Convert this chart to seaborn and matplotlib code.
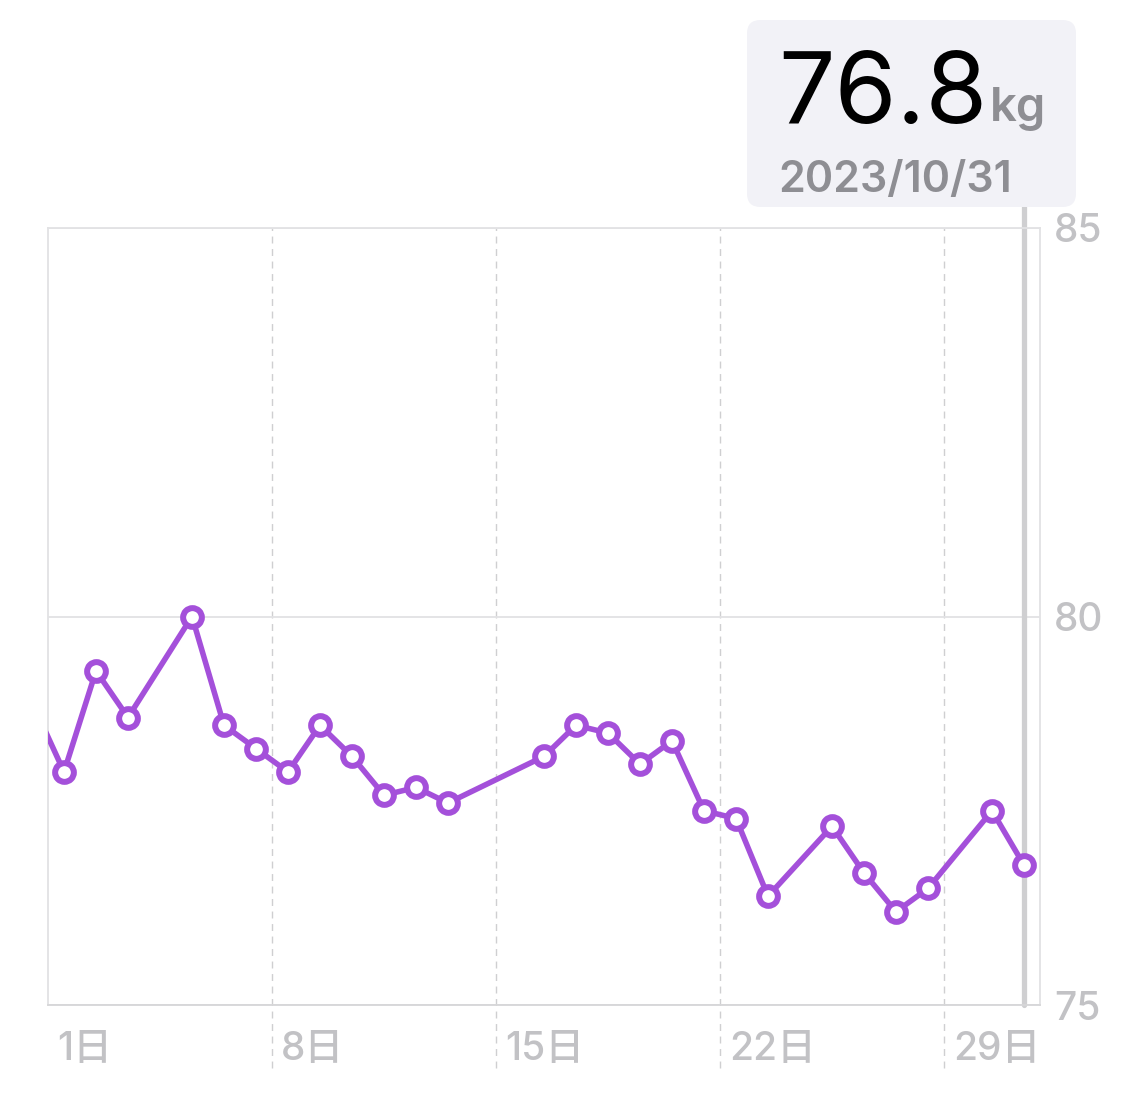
import matplotlib
matplotlib.use("Agg")
import matplotlib.pyplot as plt
import matplotlib.transforms as mtransforms
from matplotlib.patches import FancyBboxPatch
import seaborn as sns
import pandas as pd

# ---- data ----
days = [0, 1, 2, 3, 5, 6, 7, 8, 9, 10, 11, 12, 13, 16, 17, 18, 19, 20,
        21, 22, 23, 25, 26, 27, 28, 30, 31]
weights = [78.9, 78.0, 79.3, 78.7, 80.0, 78.6, 78.3, 78.0, 78.6, 78.2, 77.7,
           77.8, 77.6, 78.2, 78.6, 78.5, 78.1, 78.4, 77.5, 77.4, 76.4, 77.3,
           76.7, 76.2, 76.5, 77.5, 76.8]
week_starts = [1, 8, 15, 22, 29]
week_labels = ["1日", "8日", "15日", "22日", "29日"]
y_ticks = [75, 80, 85]
selected_day = 31
selected_value = "76.8"
selected_unit = "kg"
selected_date = "2023/10/31"

df = pd.DataFrame({"day": days, "weight": weights})

sns.set_theme(style="white")
plt.rcParams["font.family"] = ["Inter", "Noto Sans CJK JP", "DejaVu Sans"]

W, H = 1125, 1104
fig = plt.figure(figsize=(W / 100, H / 100), dpi=100)
ax = fig.add_axes([48 / W, 1 - 1005 / H, (1040 - 48) / W, (1005 - 228) / H])

purple = "#a450da"
grid_c = "#e2e2e4"
label_c = "#c2c2c5"

# selection bar
ax.axvline(selected_day, ymin=0, ymax=(1005 - 207) / (1005 - 228), color="#cfcfd1",
           lw=3.8, clip_on=False, zorder=1)

# dashed week gridlines extending below axis
for d in week_starts[1:]:
    ax.axvline(d - 0.5, ymin=-(1068 - 1005) / (1005 - 228), ymax=1, color="#cfcfd1",
               lw=1.0, ls=(0, (5, 4)), clip_on=False, zorder=0)

sns.lineplot(data=df, x="day", y="weight", ax=ax, color=purple,
             marker="o", zorder=3)
line = ax.get_lines()[-1]
line.set_linewidth(4.0)
line.set_markersize(13.5)
line.set_markerfacecolor("white")
line.set_markeredgecolor(purple)
line.set_markeredgewidth(4.3)

ax.set_xlim(0.5, 31.5)
ax.set_ylim(75, 85)
ax.set_xlabel("")
ax.set_ylabel("")

# y axis on the right
ax.yaxis.tick_right()
ax.set_yticks(y_ticks)
ax.set_yticklabels([str(v) for v in y_ticks], fontsize=28, color=label_c,
                   fontweight="medium")
ax.tick_params(axis="y", length=0, pad=10)
ax.grid(axis="y", color=grid_c, lw=1.3)
ax.grid(axis="x", visible=False)

# x tick labels, left-aligned just right of week gridlines
ax.set_xticks([d - 0.5 for d in week_starts])
ax.set_xticklabels(week_labels, fontsize=28, color=label_c, fontweight="medium")
ax.tick_params(axis="x", length=0, pad=19)
offset = mtransforms.ScaledTranslation(9 / 100, 0, fig.dpi_scale_trans)
for lab in ax.get_xticklabels():
    lab.set_horizontalalignment("left")
    lab.set_transform(lab.get_transform() + offset)

for s in ax.spines.values():
    s.set_color(grid_c)
    s.set_linewidth(1.3)
ax.spines["bottom"].set_color("#d6d6d8")

# tooltip box
box = FancyBboxPatch((747 / W, 1 - 207 / H), (1076 - 747) / W, (207 - 20) / H,
                     boxstyle="round,pad=0,rounding_size=0.012",
                     transform=fig.transFigure, facecolor="#f2f2f7",
                     edgecolor="none", zorder=5)
fig.patches.append(box)
fig.text(778 / W, 1 - 123 / H, selected_value, fontsize=72, color="black",
         va="baseline", ha="left", zorder=6)
fig.text(990 / W, 1 - 121 / H, selected_unit, fontsize=34, color="#8e8e93",
         fontweight="semibold", va="baseline", ha="left", zorder=6)
fig.text(778 / W, 1 - 192 / H, selected_date, fontsize=31, color="#8e8e93",
         fontweight="semibold", va="baseline", ha="left", zorder=6)

fig.savefig("out.png", dpi=100)
